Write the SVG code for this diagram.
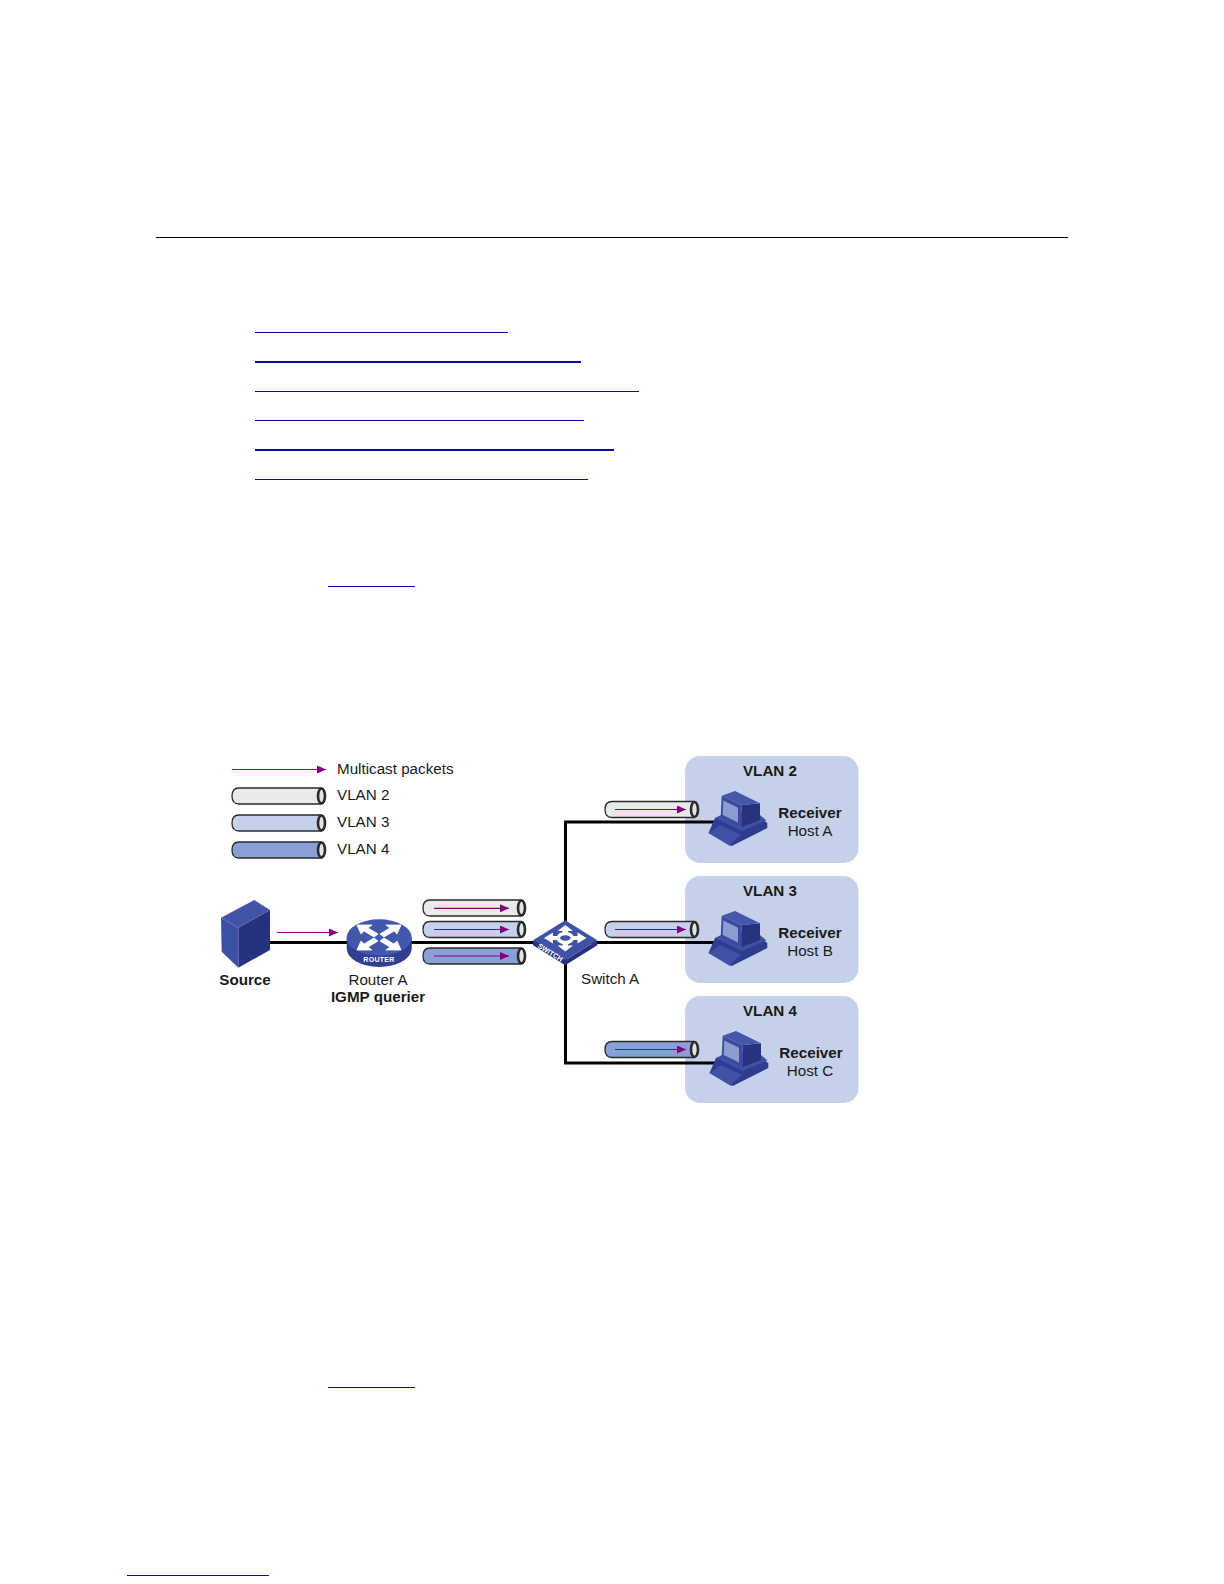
<svg xmlns="http://www.w3.org/2000/svg" xmlns:xlink="http://www.w3.org/1999/xlink" width="1224" height="1584" viewBox="0 0 1224 1584">
<style>
text{font-family:"Liberation Sans",Arial,sans-serif;font-size:15.2px;fill:#1a1a1a}
.b{font-weight:bold}
.m{text-anchor:middle}
.lnk{stroke:#0a0aa8;stroke-width:1;fill:none}
.wire{stroke:#000;stroke-width:3;fill:none}
.pkt{stroke:#800080;stroke-width:1.2;fill:none;marker-end:url(#ah)}
.tube{stroke:#2a2a2a;stroke-width:1.3}
.end{fill:#e4e4e4;stroke:#2a2a2a;stroke-width:2.6}
.v2{fill:#e9e9e7}.v3{fill:#c5d1ea}.v4{fill:#8a9fd6}
.zone{fill:#c5d1ea}
.w{fill:#fff}
.tiny{font-size:7px;fill:#fff;font-weight:bold;text-anchor:middle}
</style>
<defs>
<marker id="ah" markerUnits="userSpaceOnUse" markerWidth="9" markerHeight="8" refX="9" refY="4" orient="auto"><path d="M0,0L9,4L0,8Z" fill="#800080"/></marker>
<g id="pc">
<path d="M715,818L708.500,833L731.700,846L767.300,828V823L760,818L741.700,812Z" fill="#2f3d8f"/>
<path d="M715,818L722,814.500L760,815L766.500,820.500L741.700,831Z" fill="#3f50a3"/>
<path d="M708.500,833L720,825L741,835L731.700,842.500L730,846Z" fill="#4152a6"/>
<path d="M741.700,805L760,803.300V820L741.700,827Z" fill="#27337f"/>
<path d="M721.700,795.700L735,791L760,803.300L741.700,805Z" fill="#4557ab"/>
<path d="M721.700,795.700L741.700,805V827L720.700,817Z" fill="#3a4ba0"/>
<path d="M723.300,800.500L738,807.700V822.500L722.700,815Z" fill="#8d9bd3"/>
</g>
</defs>
<rect width="1224" height="1584" fill="#fff"/>
<g id="page-rules">
<path d="M156,237.500H1068" stroke="#000" stroke-width="1" fill="none"/>
<path class="lnk" d="M255,332.500H508M255,391.500H639M255,420.500H584M255,479.500H588M328,586.500H415M328,1387.500H415M127,1575.500H269"/>
<path class="lnk" style="stroke-width:2" d="M255,362H581M255,450H614"/>
</g>
<g id="zones">
<rect class="zone" x="685" y="756" width="173.500" height="107" rx="15"/>
<rect class="zone" x="685" y="876" width="173.500" height="107" rx="15"/>
<rect class="zone" x="685" y="996" width="173.500" height="107" rx="15"/>
</g>
<g id="connectors">
<path class="wire" d="M268,942.500H716"/>
<path class="wire" d="M716,822H565.500V1063H716"/>
</g>
<g id="legend">
<path class="pkt" d="M232,769.500H326"/>
<path class="tube v2" d="M239,788H321V804H239Q232,804 232,796Q232,788 239,788Z"/><ellipse class="end" cx="321.500" cy="796" rx="3.500" ry="7.500"/>
<path class="tube v3" d="M239,815H321V831H239Q232,831 232,823Q232,815 239,815Z"/><ellipse class="end" cx="321.500" cy="823" rx="3.500" ry="7.500"/>
<path class="tube v4" d="M239,842H321V858H239Q232,858 232,850Q232,842 239,842Z"/><ellipse class="end" cx="321.500" cy="850" rx="3.500" ry="7.500"/>
<text x="337" y="774">Multicast packets</text>
<text x="337" y="800">VLAN 2</text>
<text x="337" y="827">VLAN 3</text>
<text x="337" y="853.500">VLAN 4</text>
</g>
<g id="tubes-router-switch">
<path class="tube v2" d="M430,900H521V916H430Q423,916 423,908Q423,900 430,900Z"/><ellipse class="end" cx="521.500" cy="908" rx="3.500" ry="7.500"/><path class="pkt" d="M434,908.300H509"/>
<path class="tube v3" d="M430,921.500H521V937.500H430Q423,937.500 423,929.500Q423,921.500 430,921.500Z"/><ellipse class="end" cx="521.500" cy="929.500" rx="3.500" ry="7.500"/><path class="pkt" d="M434,929.500H509"/>
<path class="tube v4" d="M430,948H521V964H430Q423,964 423,956Q423,948 430,948Z"/><ellipse class="end" cx="521.500" cy="956" rx="3.500" ry="7.500"/><path class="pkt" d="M434,956H509"/>
</g>
<g id="tubes-hosts">
<path class="tube v2" d="M612,801.500H694V817.500H612Q605,817.500 605,809.500Q605,801.500 612,801.500Z"/><ellipse class="end" cx="694.500" cy="809.500" rx="3.500" ry="7.500"/><path class="pkt" d="M615,809.500H686"/>
<path class="tube v3" d="M612,921.500H694V937.500H612Q605,937.500 605,929.500Q605,921.500 612,921.500Z"/><ellipse class="end" cx="694.500" cy="929.500" rx="3.500" ry="7.500"/><path class="pkt" d="M615,929.500H686"/>
<path class="tube v4" d="M612,1041.500H694V1057.500H612Q605,1057.500 605,1049.500Q605,1041.500 612,1041.500Z"/><ellipse class="end" cx="694.500" cy="1049.500" rx="3.500" ry="7.500"/><path class="pkt" d="M615,1049.500H686"/>
</g>
<g id="source">
<path d="M238.300,927.700L270,910V950L238.300,967.700Z" fill="#27327f"/>
<path d="M221,917.700L238.300,927.700V967.700L221.700,951.700Z" fill="#3e50a4"/>
<path d="M221,917.700L254.300,900L270,910L238.300,927.700Z" fill="#4253a8"/>
<path class="pkt" d="M277,932.500H338"/>
<text class="b m" x="245" y="985">Source</text>
</g>
<g id="router-a">
<path d="M346.700,937.500V948.500A32.500,18.500 0 0 0 411.700,948.500V937.500Z" fill="#2f3f92"/>
<ellipse cx="379.200" cy="937.500" rx="32.500" ry="18.200" fill="#4358ad"/>
<g stroke="#fff" stroke-width="0.8">
<path class="w" d="M357,925L372,925L368,928L378,934L374,937L364,931L361,934Z"/>
<path class="w" d="M401,925L386,925L390,928L380,934L384,937L394,931L397,934Z"/>
<path class="w" d="M357,950L372,950L368,947L378,941L374,938L364,944L361,941Z"/>
<path class="w" d="M401,950L386,950L390,947L380,941L384,938L394,944L397,941Z"/>
</g>
<text class="tiny" x="379" y="962" style="letter-spacing:.3px">ROUTER</text>
<text class="m" x="378" y="985">Router A</text>
<text class="b m" x="378" y="1002">IGMP querier</text>
</g>
<g id="switch-a">
<path d="M533,940.300V945.300L565.300,965.300L597.300,945.300V940.300L565.300,960.300Z" fill="#26327f"/>
<path d="M533,940.300L565.300,920.300L597.300,940.300L565.300,960.300Z" fill="#3f52a6"/>
<path class="w" d="M565.300,925L573,931H568V935H562.600V931H557.600Z"/>
<path class="w" d="M565.300,951.500L573,945.500H568V941H562.600V945.500H557.600Z"/>
<path class="w" d="M544,938L553,932.500V936H558V940H553V943.500Z"/>
<path class="w" d="M586.500,938L577.500,932.500V936H572.500V940H577.500V943.500Z"/>
<ellipse cx="565.300" cy="938" rx="7" ry="4.500" fill="#3f52a6" stroke="#fff" stroke-width="3.500"/>
<text class="tiny" transform="translate(549 954.500) rotate(32)">SWITCH</text>
<text x="581" y="984">Switch A</text>
</g>
<g id="host-a">
<use xlink:href="#pc" href="#pc"/>
<text class="b m" x="770" y="775.700">VLAN 2</text>
<text class="b m" x="810" y="817.700">Receiver</text>
<text class="m" x="810" y="835.700">Host A</text>
</g>
<g id="host-b">
<use xlink:href="#pc" href="#pc" y="120"/>
<text class="b m" x="770" y="895.700">VLAN 3</text>
<text class="b m" x="810" y="938">Receiver</text>
<text class="m" x="810" y="956">Host B</text>
</g>
<g id="host-c">
<use xlink:href="#pc" href="#pc" x="1" y="240"/>
<text class="b m" x="770" y="1015.700">VLAN 4</text>
<text class="b m" x="811" y="1057.700">Receiver</text>
<text class="m" x="810" y="1075.700">Host C</text>
</g>
</svg>
